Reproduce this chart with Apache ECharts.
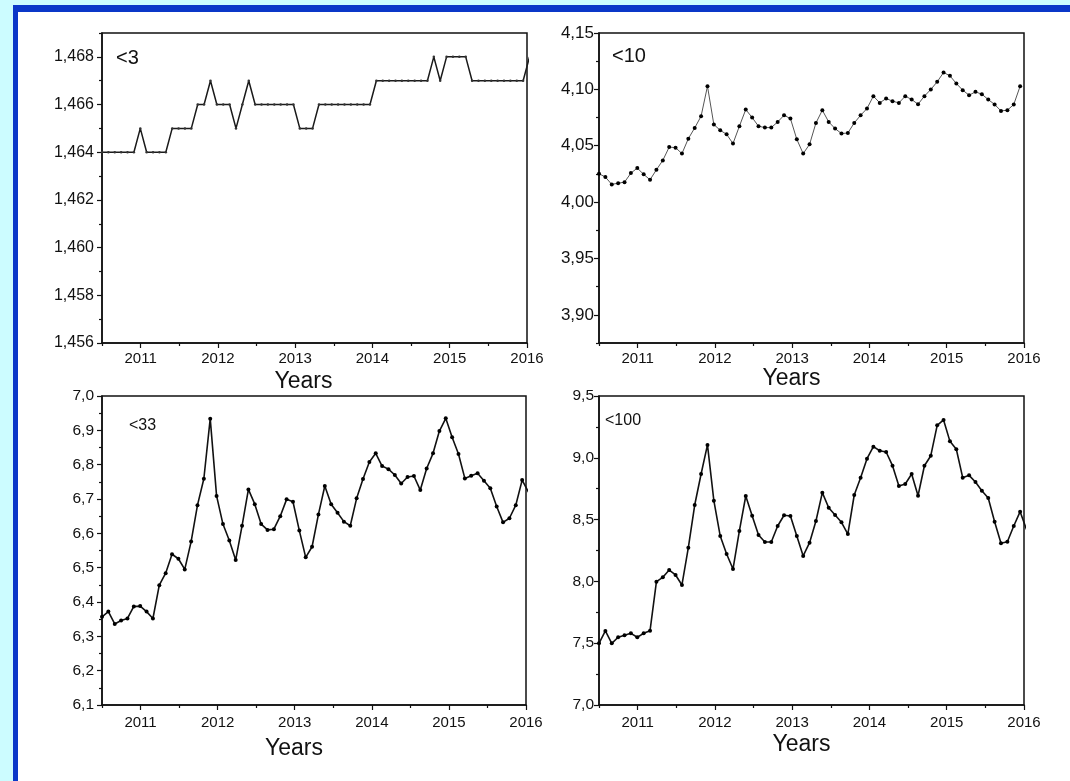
<!DOCTYPE html>
<html>
<head>
<meta charset="utf-8">
<script src="https://cdn.jsdelivr.net/npm/echarts@6/dist/echarts.min.js"></script>
<style>
html,body{margin:0;padding:0;width:1070px;height:781px;overflow:hidden;background:#fff;}
#bgc{position:absolute;left:0;top:0;width:1070px;height:781px;background:#ccfcff;}
#bgb{position:absolute;left:13px;top:5px;right:0;bottom:0;background:#0a37c8;}
#bgw{position:absolute;left:18px;top:12px;right:0;bottom:0;background:#fff;}
#chart{position:absolute;left:0;top:0;width:1070px;height:781px;}
</style>
</head>
<body>
<div id="bgc"></div><div id="bgb"></div><div id="bgw"></div>
<div id="chart"></div>
<script>
// ---- time base: monthly samples starting mid-2010 ----
const monthStart = 2010.5;
const monthStep = 5.45 / 66;

// ---- x-axis tick labels ----
const yearTicks = [2011, 2012, 2013, 2014, 2015, 2016];
const halfYearTicks = [2010.5, 2011.5, 2012.5, 2013.5, 2014.5, 2015.5];

// ---- panel labels ----
const panelLabels = ['<3', '<10', '<33', '<100'];

// ---- series values (one per month) ----
const seriesLt3 = [
  1.464, 1.464, 1.464, 1.464, 1.464, 1.464, 1.465, 1.464, 1.464, 1.464,
  1.464, 1.465, 1.465, 1.465, 1.465, 1.466, 1.466, 1.467, 1.466, 1.466,
  1.466, 1.465, 1.466, 1.467, 1.466, 1.466, 1.466, 1.466, 1.466, 1.466,
  1.466, 1.465, 1.465, 1.465, 1.466, 1.466, 1.466, 1.466, 1.466, 1.466,
  1.466, 1.466, 1.466, 1.467, 1.467, 1.467, 1.467, 1.467, 1.467, 1.467,
  1.467, 1.467, 1.468, 1.467, 1.468, 1.468, 1.468, 1.468, 1.467, 1.467,
  1.467, 1.467, 1.467, 1.467, 1.467, 1.467, 1.467, 1.468
];
const seriesLt10 = [
  4.0252, 4.0222, 4.0157, 4.0168, 4.0177, 4.0257, 4.0302, 4.0246, 4.0198, 4.0287,
  4.0370, 4.0488, 4.0483, 4.0430, 4.0563, 4.0658, 4.0762, 4.1028, 4.0688, 4.0637,
  4.0601, 4.0519, 4.0673, 4.0821, 4.0750, 4.0673, 4.0661, 4.0661, 4.0711, 4.0770,
  4.0741, 4.0557, 4.0430, 4.0512, 4.0702, 4.0815, 4.0711, 4.0652, 4.0608, 4.0613,
  4.0702, 4.0770, 4.0830, 4.0940, 4.0880, 4.0919, 4.0895, 4.0880, 4.0940, 4.0910,
  4.0868, 4.0940, 4.0999, 4.1067, 4.1150, 4.1120, 4.1052, 4.0993, 4.0948, 4.0978,
  4.0957, 4.0910, 4.0866, 4.0809, 4.0815, 4.0866, 4.1028
];
const seriesLt33 = [
  6.357, 6.372, 6.336, 6.346, 6.352, 6.387, 6.388, 6.372, 6.352, 6.449,
  6.484, 6.539, 6.526, 6.495, 6.576, 6.682, 6.759, 6.934, 6.709, 6.627,
  6.579, 6.522, 6.622, 6.728, 6.685, 6.627, 6.610, 6.612, 6.650, 6.699,
  6.692, 6.608, 6.530, 6.561, 6.655, 6.738, 6.685, 6.660, 6.634, 6.622,
  6.702, 6.758, 6.808, 6.833, 6.796, 6.787, 6.770, 6.745, 6.764, 6.767,
  6.726, 6.789, 6.833, 6.898, 6.935, 6.880, 6.831, 6.760, 6.768, 6.775,
  6.753, 6.731, 6.678, 6.632, 6.644, 6.682, 6.755, 6.720
];
const seriesLt100 = [
  7.499, 7.599, 7.499, 7.548, 7.564, 7.580, 7.548, 7.580, 7.601, 7.998,
  8.033, 8.092, 8.052, 7.971, 8.273, 8.618, 8.869, 9.104, 8.653, 8.367,
  8.222, 8.100, 8.408, 8.691, 8.532, 8.375, 8.319, 8.319, 8.448, 8.535,
  8.529, 8.367, 8.206, 8.313, 8.489, 8.718, 8.596, 8.537, 8.478, 8.383,
  8.699, 8.839, 8.993, 9.090, 9.057, 9.047, 8.936, 8.772, 8.788, 8.869,
  8.693, 8.936, 9.017, 9.263, 9.306, 9.133, 9.069, 8.839, 8.858, 8.804,
  8.734, 8.675, 8.483, 8.308, 8.321, 8.448, 8.564, 8.420
];

// ---- y-axis tick values ----
const yMajorLt3 = [1.456, 1.458, 1.460, 1.462, 1.464, 1.466, 1.468];
const yMinorLt3 = [1.457, 1.459, 1.461, 1.463, 1.465, 1.467, 1.469];
const yMajorLt10 = [3.90, 3.95, 4.00, 4.05, 4.10, 4.15];
const yMinorLt10 = [3.875, 3.925, 3.975, 4.025, 4.075, 4.125];
const yMajorLt33 = [6.1, 6.2, 6.3, 6.4, 6.5, 6.6, 6.7, 6.8, 6.9, 7.0];
const yMinorLt33 = [6.15, 6.25, 6.35, 6.45, 6.55, 6.65, 6.75, 6.85, 6.95];
const yMajorLt100 = [7.0, 7.5, 8.0, 8.5, 9.0, 9.5];
const yMinorLt100 = [7.25, 7.75, 8.25, 8.75, 9.25];

const FONT = '"Liberation Sans", Arial, sans-serif';
const INK = '#111';

function pairs(values) {
  return values.map((v, j) => [monthStart + j * monthStep, v]);
}
function decFmt(d) {
  return v => Number(v).toFixed(d).replace('.', ',');
}

const panels = [
  { rect: [102, 33, 425, 310], y: [1.456, 1.469, 0.001], major: yMajorLt3, minor: yMinorLt3, dec: 3,
    data: seriesLt3, yFont: 16, yMargin: 8, xMargin: 8, nameGap: 27, nameShift: 11,
    line: { color: '#1a1a1a', width: 1.5 }, sym: 2.5, symColor: '#333',
    label: panelLabels[0], lblPos: [116, 48], lblFont: 20 },
  { rect: [599, 33, 425, 310], y: [3.875, 4.15, 0.025], major: yMajorLt10, minor: yMinorLt10, dec: 2,
    data: seriesLt10, yFont: 17, yMargin: 5, xMargin: 8, nameGap: 24, nameShift: 20,
    line: { color: '#555', width: 1 }, sym: 4, symColor: '#000',
    label: panelLabels[1], lblPos: [612, 46], lblFont: 20 },
  { rect: [102, 396, 424, 309], y: [6.1, 7.0, 0.05], major: yMajorLt33, minor: yMinorLt33, dec: 1,
    data: seriesLt33, yFont: 15.5, yMargin: 8, xMargin: 10, nameGap: 32, nameShift: 20,
    line: { color: '#111', width: 1.6 }, sym: 4, symColor: '#000',
    label: panelLabels[2], lblPos: [129, 418], lblFont: 16 },
  { rect: [599, 396, 425, 309], y: [7.0, 9.5, 0.25], major: yMajorLt100, minor: yMinorLt100, dec: 1,
    data: seriesLt100, yFont: 15.5, yMargin: 5, xMargin: 10, nameGap: 28, nameShift: 10,
    line: { color: '#111', width: 1.6 }, sym: 4, symColor: '#000',
    label: panelLabels[3], lblPos: [605, 413], lblFont: 16 }
];

const grid = [], xAxis = [], yAxis = [], series = [], title = [];
panels.forEach((p, i) => {
  grid.push({ left: p.rect[0], top: p.rect[1], width: p.rect[2], height: p.rect[3],
    show: true, borderColor: INK, borderWidth: 1.5, backgroundColor: 'transparent', containLabel: false });
  xAxis.push({ gridIndex: i, type: 'value', min: 2010.5, max: 2016, interval: 0.5, position: 'bottom',
    axisLine: { show: true, onZero: false, lineStyle: { color: INK, width: 1.5 } },
    axisTick: { show: true, length: 5, customValues: yearTicks, lineStyle: { color: INK, width: 1.2 } },
    axisLabel: { show: true, customValues: yearTicks, margin: p.xMargin, fontSize: 15, color: INK,
      fontFamily: FONT, formatter: v => String(Math.round(v)) },
    splitLine: { show: false },
    name: 'Years', nameLocation: 'middle', nameGap: p.nameGap,
    nameTextStyle: { fontSize: 23, color: INK, fontFamily: FONT, padding: [0, p.nameShift * 2, 0, 0] } });
  xAxis.push({ gridIndex: i, type: 'value', min: 2010.5, max: 2016, interval: 0.5, position: 'bottom',
    axisLine: { show: false, onZero: false },
    axisTick: { show: true, length: 3, customValues: halfYearTicks, lineStyle: { color: INK, width: 1.2 } },
    axisLabel: { show: false }, splitLine: { show: false } });
  yAxis.push({ gridIndex: i, type: 'value', min: p.y[0], max: p.y[1], interval: p.y[2], position: 'left',
    axisLine: { show: true, onZero: false, lineStyle: { color: INK, width: 1.5 } },
    axisTick: { show: true, length: 5, customValues: p.major, lineStyle: { color: INK, width: 1.2 } },
    axisLabel: { show: true, customValues: p.major, margin: p.yMargin, fontSize: p.yFont, color: INK,
      fontFamily: FONT, formatter: decFmt(p.dec) },
    splitLine: { show: false } });
  yAxis.push({ gridIndex: i, type: 'value', min: p.y[0], max: p.y[1], interval: p.y[2], position: 'left',
    axisLine: { show: false, onZero: false },
    axisTick: { show: true, length: 3, customValues: p.minor, lineStyle: { color: INK, width: 1.2 } },
    axisLabel: { show: false }, splitLine: { show: false } });
  series.push({ type: 'line', xAxisIndex: 2 * i, yAxisIndex: 2 * i, data: pairs(p.data),
    symbol: 'circle', symbolSize: p.sym, showSymbol: true, clip: true,
    itemStyle: { color: p.symColor, borderWidth: 0 },
    lineStyle: { color: p.line.color, width: p.line.width }, silent: true, animation: false });
  title.push({ text: p.label, left: p.lblPos[0], top: p.lblPos[1], padding: 0,
    textStyle: { fontSize: p.lblFont, fontWeight: 'normal', color: INK, fontFamily: FONT } });
});

const chart = echarts.init(document.getElementById('chart'), null, { renderer: 'canvas' });
chart.setOption({ animation: false, backgroundColor: 'transparent', title, grid, xAxis, yAxis, series });
</script>
</body>
</html>
